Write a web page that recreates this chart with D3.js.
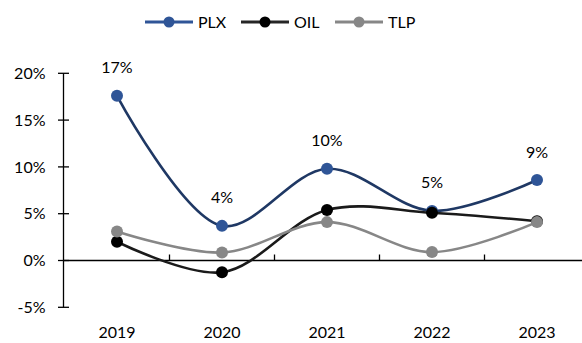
<!DOCTYPE html>
<html>
<head>
<meta charset="utf-8">
<script src="https://cdn.jsdelivr.net/npm/d3@7"></script>
<style>
  body { margin: 0; background: #fff; }
  text { font-family: Lato, "Noto Sans", sans-serif; fill: #000; }
</style>
</head>
<body>
<div id="vis"></div>
<script>
var years = ['2019', '2020', '2021', '2022', '2023'];
var plx = [17.6, 3.7, 9.8, 5.3, 8.6];
var oil = [2.0, -1.25, 5.4, 5.1, 4.2];
var tlp = [3.1, 0.85, 4.1, 0.9, 4.1];
var plxLabels = ['17%', '4%', '10%', '5%', '9%'];
var yTicks = [-5, 0, 5, 10, 15, 20];

var width = 582, height = 343;

var svg = d3.select('#vis').append('svg')
    .attr('width', width)
    .attr('height', height);

var xScale = d3.scaleBand().domain(years).range([64.5, 589.5]);
var yScale = d3.scaleLinear().domain([-5, 20]).range([307.3, 73.3]);
var cx = d => xScale(d) + xScale.bandwidth() / 2;

// y axis
var yAxis = svg.append('g').attr('transform', 'translate(63.5,0)');
yAxis.append('line')
    .attr('y1', yScale(-5)).attr('y2', yScale(20))
    .attr('stroke', '#000').attr('stroke-width', 1.3);
yAxis.selectAll('.tk').data(yTicks).enter().append('line')
    .attr('x1', -5.5).attr('x2', 5.5)
    .attr('y1', d => yScale(d)).attr('y2', d => yScale(d))
    .attr('stroke', '#000').attr('stroke-width', 1.3);
yAxis.selectAll('.lbl').data(yTicks).enter().append('text')
    .attr('x', -18).attr('y', d => yScale(d))
    .attr('dy', '0.35em')
    .attr('text-anchor', 'end')
    .style('font-size', '16px')
    .text(d => d + '%');

// x axis at 0
var y0 = yScale(0);
svg.append('line')
    .attr('x1', 63.5).attr('x2', width)
    .attr('y1', y0).attr('y2', y0)
    .attr('stroke', '#000').attr('stroke-width', 1.3);
svg.selectAll('.xtk').data(years.slice(1)).enter().append('line')
    .attr('x1', d => xScale(d)).attr('x2', d => xScale(d))
    .attr('y1', y0 - 6).attr('y2', y0)
    .attr('stroke', '#000').attr('stroke-width', 1.3);
svg.selectAll('.xlbl').data(years).enter().append('text')
    .attr('x', cx).attr('y', 332)
    .attr('dy', '0.35em')
    .attr('text-anchor', 'middle')
    .style('font-size', '16px')
    .text(d => d);

var series = [
    {name: 'PLX', values: plx, line: '#1f3864', marker: '#2f5597'},
    {name: 'OIL', values: oil, line: '#1a1a1a', marker: '#000000'},
    {name: 'TLP', values: tlp, line: '#878787', marker: '#878787'}
];

var line = d3.line()
    .x((d, i) => cx(years[i]))
    .y(d => yScale(d))
    .curve(d3.curveCatmullRom.alpha(0.5));

series.forEach(function(s) {
    svg.append('path')
        .attr('d', line(s.values))
        .attr('fill', 'none')
        .attr('stroke', s.line)
        .attr('stroke-width', 2.6);
    svg.selectAll('.m' + s.name).data(s.values).enter().append('circle')
        .attr('cx', (d, i) => cx(years[i]))
        .attr('cy', d => yScale(d))
        .attr('r', 6)
        .attr('fill', s.marker);
});

// PLX data labels
svg.selectAll('.dl').data(plx).enter().append('text')
    .attr('x', (d, i) => cx(years[i]))
    .attr('y', d => yScale(d) - 28)
    .attr('dy', '0.35em')
    .attr('text-anchor', 'middle')
    .style('font-size', '16px')
    .text((d, i) => plxLabels[i]);

// legend
var legendItems = [
    {name: 'PLX', line: '#2f5597', marker: '#2f5597', x: 145},
    {name: 'OIL', line: '#262626', marker: '#000000', x: 241},
    {name: 'TLP', line: '#878787', marker: '#878787', x: 335}
];
var legend = svg.selectAll('.legend').data(legendItems).enter().append('g')
    .attr('transform', d => 'translate(' + d.x + ',22)');
legend.append('line')
    .attr('x1', 0).attr('x2', 48)
    .attr('stroke', d => d.line).attr('stroke-width', 2.8);
legend.append('circle')
    .attr('cx', 24).attr('r', 5.5)
    .attr('fill', d => d.marker);
legend.append('text')
    .attr('x', 53).attr('dy', '0.35em')
    .style('font-size', '16px')
    .text(d => d.name);
</script>
</body>
</html>
